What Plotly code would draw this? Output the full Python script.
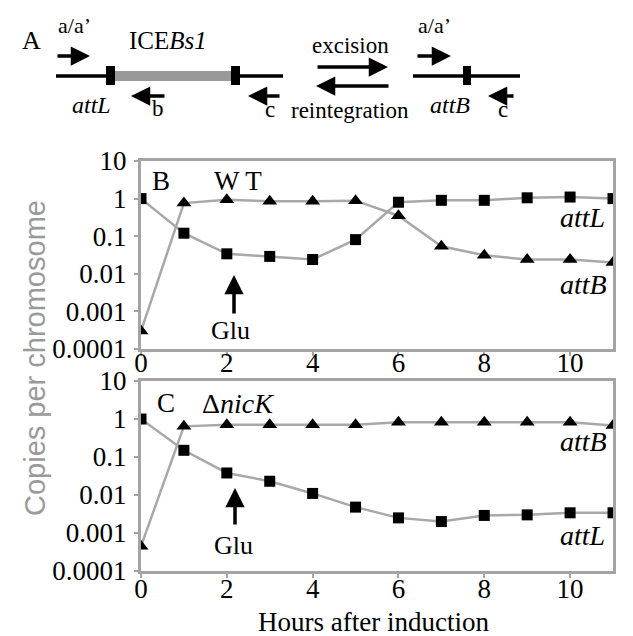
import plotly.graph_objects as go

# ---------------- data ----------------
hours = [0, 1, 2, 3, 4, 5, 6, 7, 8, 9, 10, 11]

wt_attL = [1.0, 0.12, 0.034, 0.029, 0.024, 0.081, 0.8, 0.9, 0.9, 1.05, 1.1, 1.0]
wt_attB = [0.0003, 0.76, 0.93, 0.85, 0.85, 0.88, 0.35, 0.054, 0.031, 0.024, 0.024, 0.02]

nick_attL = [1.0, 0.15, 0.038, 0.023, 0.011, 0.0048, 0.0025, 0.002, 0.0029, 0.003, 0.0034, 0.0034]
nick_attB = [0.00045, 0.64, 0.71, 0.71, 0.71, 0.71, 0.82, 0.82, 0.82, 0.82, 0.82, 0.67]

y_tickvals = [0.0001, 0.001, 0.01, 0.1, 1, 10]
y_ticktext = ["0.0001", "0.001", "0.01", "0.1", "1", "10"]
x_tickvals = [0, 2, 4, 6, 8, 10]
x_ticktext = ["0", "2", "4", "6", "8", "10"]

# ---------------- layout helpers ----------------
W, H = 633, 636
L, R, T, B = 133, 28, 153, 73
PW, PH = W - L - R, H - T - B


def X(px):
    return (px - L) / PW


def Y(py):
    return (H - B - py) / PH


SERIF = "Liberation Serif"
SANS = "Liberation Sans"
GRAY = "#a4a4a4"
LINEGRAY = "#a8a8a8"

fig = go.Figure()


def add_series(xs, ys, symbol, size, xa, ya):
    fig.add_trace(go.Scatter(
        x=xs, y=ys, mode="lines+markers",
        line=dict(color=LINEGRAY, width=2.5),
        marker=dict(symbol=symbol, size=size, color="black", line=dict(width=0)),
        xaxis=xa, yaxis=ya, showlegend=False, hoverinfo="skip"))


add_series(hours, wt_attL, "square", 11, "x", "y")
add_series(hours, wt_attB, "triangle-up", 13, "x", "y")
add_series(hours, nick_attL, "square", 11, "x2", "y2")
add_series(hours, nick_attB, "triangle-up", 13, "x2", "y2")

axis_common = dict(
    showline=True, mirror=True, linecolor=GRAY, linewidth=3,
    ticks="outside", ticklen=4, tickwidth=2, tickcolor=GRAY,
    showgrid=False, zeroline=False,
    tickfont=dict(family=SERIF, size=27, color="black"),
)

fig.update_layout(
    width=W, height=H,
    margin=dict(l=L, r=R, t=T, b=B),
    paper_bgcolor="white", plot_bgcolor="white",
    xaxis=dict(domain=[0, 1], anchor="y", range=[0, 11],
               tickvals=x_tickvals, ticktext=x_ticktext,
               ticklabelstandoff=-16, **axis_common),
    yaxis=dict(domain=[Y(341), 1], anchor="x", type="log", range=[-4, 1],
               tickvals=y_tickvals, ticktext=y_ticktext,
               ticklabelstandoff=2, **axis_common),
    xaxis2=dict(domain=[0, 1], anchor="y2", range=[0, 11],
                tickvals=x_tickvals, ticktext=x_ticktext,
                ticklabelstandoff=-12,
                **axis_common),
    yaxis2=dict(domain=[0, Y(373)], anchor="x2", type="log", range=[-4, 1],
                tickvals=y_tickvals, ticktext=y_ticktext,
                ticklabelstandoff=2, **axis_common),
)

ann = []


def text(px, py, s, size=25, family=SERIF, color="black", angle=0):
    ann.append(dict(x=X(px), y=Y(py), xref="paper", yref="paper", text=s,
                    showarrow=False, xanchor="center", yanchor="middle",
                    font=dict(family=family, size=size, color=color),
                    textangle=angle))


def arrow(x0, y0, x1, y1, width=3.5):
    # arrow from (x0,y0) pixel to head at (x1,y1)
    ann.append(dict(x=X(x1), y=Y(y1), xref="paper", yref="paper", text="",
                    showarrow=True, ax=x0 - x1, ay=y0 - y1,
                    arrowhead=2, arrowsize=1.1, arrowwidth=width,
                    arrowcolor="black", standoff=0, startstandoff=0))


# axis titles
text(27, 350, "Copies per chromosome", size=29, family=SANS, color="#9a9a9a", angle=-90)
text(365, 614, "Hours after induction", size=27)

# panel B labels
text(153, 173, "B", 27)
text(230, 173, "W T", 27)
text(574, 209, "<i>attL</i>", 28)
text(575, 276, "<i>attB</i>", 28)
arrow(226, 307, 226, 267)
text(222, 322, "Glu", 26)

# panel C labels
text(158, 395, "C", 27)
text(230, 395, "Δ<i>nicK</i>", 28)
text(575, 433, "<i>attB</i>", 28)
text(574, 527, "<i>attL</i>", 28)
arrow(227, 518, 227, 480)
text(225, 537, "Glu", 26)

# panel A diagram
text(23, 33, "A", 26)
text(66, 18, "a/a’", 22)
arrow(48, 48, 82, 48)
text(160, 33, "ICE<i>Bs1</i>", 25)
text(83, 97, "<i>attL</i>", 24)
arrow(158, 88, 123, 88)
text(150, 100, "b", 23)
arrow(273, 88, 240, 88)
text(262, 102, "c", 23)
text(342, 38, "excision", 23)
arrow(308, 59, 380, 59)
arrow(382, 78, 308, 78)
text(342, 103, "reintegration", 23)
text(426, 18, "a/a’", 22)
arrow(408, 48, 443, 48)
text(442, 97, "<i>attB</i>", 24)
arrow(507, 88, 480, 88)
text(495, 102, "c", 23)

shapes = []


def hline(x0, x1, y, color="black", width=3.5):
    shapes.append(dict(type="line", xref="paper", yref="paper",
                       x0=X(x0), x1=X(x1), y0=Y(y), y1=Y(y),
                       line=dict(color=color, width=width)))


def rect(x0, x1, y0, y1, color):
    shapes.append(dict(type="rect", xref="paper", yref="paper",
                       x0=X(x0), x1=X(x1), y0=Y(y0), y1=Y(y1),
                       fillcolor=color, line=dict(width=0)))


hline(48, 275, 68)
rect(107, 223, 63, 73, "#999999")
rect(98, 107, 58, 77, "black")
rect(223, 232, 58, 77, "black")
hline(405, 512, 68)
rect(455, 463, 58, 77, "black")

fig.update_layout(annotations=ann, shapes=shapes)

fig.write_html("out.html")
